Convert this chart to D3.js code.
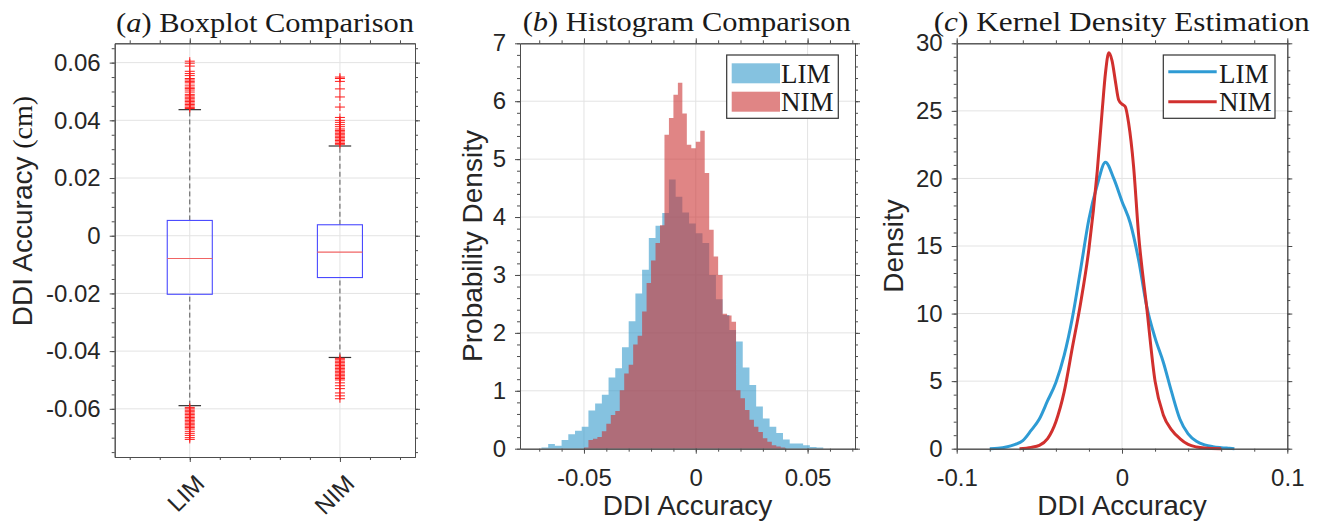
<!DOCTYPE html>

<head>
  <meta charset="utf-8">
  <script src="https://d3js.org/d3.v7.min.js"></script>
  <style>
    body {
      margin: 0;
      background: #fff;
    }

    .axis text {
      font-family: "Liberation Sans", Arial, sans-serif;
      font-size: 24px;
      fill: #262626;
    }

    .axis path,
    .axis line {
      stroke: #4d4d4d;
    }

    .label {
      font-family: "Liberation Sans", Arial, sans-serif;
      font-size: 28px;
      fill: #262626;
    }

    .serif {
      font-family: "Liberation Serif", "Times New Roman", serif;
      fill: #1a1a1a;
    }

    .grid line {
      stroke: #e3e3e3;
      stroke-width: 1;
    }
  </style>
</head>

<body>
  <svg width="1324" height="524"></svg>
  <script>
    // ---- data ----
    var groups = ["LIM", "NIM"];

    // lower whisker, q1, median, q3, upper whisker
    var limBox = [-0.0589, -0.0203, -0.0079, 0.0053, 0.0437];
    var nimBox = [-0.0422, -0.0145, -0.0057, 0.0038, 0.0311];

    var limOutliers = [0.0605, 0.0598, 0.0588, 0.0570, 0.0562, 0.0555, 0.0545, 0.0540, 0.0535, 0.0530, 0.0522,
      0.0515, 0.0510, 0.0505, 0.0498, 0.0490, 0.0485, 0.0480, 0.0475, 0.0470, 0.0465, 0.0460, 0.0455, 0.0450,
      0.0445, 0.0441, -0.0595, -0.0600, -0.0605, -0.0610, -0.0615, -0.0620, -0.0625, -0.0630, -0.0635, -0.0640,
      -0.0645, -0.0650, -0.0655, -0.0660, -0.0665, -0.0670, -0.0678, -0.0685, -0.0692, -0.0700, -0.0706];
    var nimOutliers = [0.0550, 0.0545, 0.0535, 0.0509, 0.0481, 0.0446, 0.0410, 0.0400, 0.0393, 0.0385, 0.0378,
      0.0370, 0.0365, 0.0360, 0.0355, 0.0350, 0.0345, 0.0340, 0.0335, 0.0330, 0.0325, 0.0320, 0.0317,
      -0.0425, -0.0430, -0.0435, -0.0440, -0.0445, -0.0450, -0.0455, -0.0460, -0.0465, -0.0470, -0.0475,
      -0.0480, -0.0485, -0.0490, -0.0495, -0.0500, -0.0510, -0.0520, -0.0530, -0.0545, -0.0555, -0.0565];

    // histogram (pdf normalised), bin edges and densities
    var limEdges = [-0.069, -0.066, -0.063, -0.060, -0.057, -0.054, -0.051, -0.048, -0.045, -0.042, -0.039,
      -0.036, -0.033, -0.030, -0.027, -0.024, -0.021, -0.018, -0.015, -0.012, -0.009, -0.006, -0.003, 0.000,
      0.003, 0.006, 0.009, 0.012, 0.015, 0.018, 0.021, 0.024, 0.027, 0.030, 0.033, 0.036, 0.039, 0.042, 0.045,
      0.048, 0.051, 0.054, 0.057];
    var limDensity = [0.02, 0.08, 0.05, 0.15, 0.25, 0.31, 0.38, 0.66, 0.78, 0.93, 1.23, 1.39, 1.75, 2.20, 2.68,
      3.09, 3.64, 3.85, 4.07, 4.65, 4.35, 4.08, 3.89, 3.72, 3.55, 3.00, 2.58, 2.31, 2.05, 1.85, 1.40, 1.10, 0.73,
      0.52, 0.38, 0.27, 0.16, 0.09, 0.09, 0.06, 0.03, 0.02];
    var nimEdges = [-0.050, -0.048, -0.046, -0.044, -0.042, -0.040, -0.038, -0.036, -0.034, -0.032, -0.030,
      -0.028, -0.026, -0.024, -0.022, -0.020, -0.018, -0.016, -0.014, -0.012, -0.010, -0.008, -0.006, -0.004,
      -0.002, 0.000, 0.002, 0.004, 0.006, 0.008, 0.010, 0.012, 0.014, 0.016, 0.018, 0.020, 0.022, 0.024, 0.026,
      0.028, 0.030, 0.032, 0.034, 0.036, 0.038, 0.040];
    var nimDensity = [0.02, 0.15, 0.17, 0.20, 0.30, 0.43, 0.58, 0.65, 1.01, 1.30, 1.45, 1.80, 1.95, 2.37, 2.86,
      3.25, 3.55, 3.86, 5.42, 5.71, 6.11, 6.32, 5.79, 5.25, 5.19, 5.30, 5.49, 4.76, 3.78, 3.32, 3.00, 2.33, 2.30,
      2.19, 1.01, 0.87, 0.67, 0.50, 0.38, 0.29, 0.18, 0.12, 0.06, 0.04, 0.02];

    // kernel density estimates
    var limKdeX = [-0.080, -0.075, -0.070, -0.065, -0.060, -0.055, -0.050, -0.045, -0.040, -0.035, -0.030, -0.025,
      -0.020, -0.015, -0.010, -0.005, 0.000, 0.005, 0.010, 0.015, 0.020, 0.025, 0.030, 0.035, 0.040, 0.045, 0.050,
      0.055, 0.060, 0.065, 0.068];
    var limKdeY = [0, 0.03, 0.12, 0.3, 0.6, 1.35, 2.2, 3.55, 4.9, 6.9, 9.7, 13.3, 17.0, 19.5, 21.2, 20.0, 18.3, 16.7,
      14.0, 10.5, 8.2, 6.4, 4.2, 2.2, 1.1, 0.55, 0.28, 0.15, 0.08, 0.03, 0];
    var nimKdeX = [-0.062, -0.055, -0.050, -0.045, -0.040, -0.035, -0.030, -0.025, -0.020, -0.015, -0.012, -0.010,
      -0.008, -0.006, -0.004, -0.002, 0.000, 0.002, 0.004, 0.007, 0.010, 0.015, 0.020, 0.025, 0.030, 0.035, 0.040,
      0.045, 0.050, 0.060];
    var nimKdeY = [0, 0.1, 0.25, 0.75, 2.0, 4.2, 7.5, 10.8, 14.8, 20.5, 25.0, 27.8, 29.3, 28.7, 27.2, 25.8, 25.5,
      25.3, 24.1, 20.9, 15.9, 10.4, 5.0, 2.5, 1.4, 0.75, 0.32, 0.13, 0.05, 0];

    var blue = "#3399cc", red = "#cc3333";
    var lineBlue = "#2e9bd4", lineRed = "#d1302e";

    var svg = d3.select("svg");

    // axes frame with outward ticks on all four sides, MATLAB style
    function frame(g, x, y, o) {
      var x0 = x.range()[0], x1 = x.range()[1], y0 = y.range()[0], y1 = y.range()[1];

      var grid = g.append("g").attr("class", "grid");
      grid.selectAll(".gx").data(o.xMajor.filter(function (d) { return x(d) > x0 + 1 && x(d) < x1 - 1; }))
        .join("line").attr("x1", x).attr("x2", x).attr("y1", y0).attr("y2", y1);
      grid.selectAll(".gy").data(o.yMajor.filter(function (d) { return y(d) < y0 - 1 && y(d) > y1 + 1; }))
        .join("line").attr("y1", y).attr("y2", y).attr("x1", x0).attr("x2", x1);

      return function () {
        var sides = [
          [d3.axisBottom, x, "translate(0," + y0 + ")", o.xMajor, o.xMinor, o.xFmt],
          [d3.axisTop, x, "translate(0," + y1 + ")", o.xMajor, o.xMinor, null],
          [d3.axisLeft, y, "translate(" + x0 + ",0)", o.yMajor, o.yMinor, o.yFmt],
          [d3.axisRight, y, "translate(" + x1 + ",0)", o.yMajor, o.yMinor, null]
        ];
        sides.forEach(function (s) {
          g.append("g").attr("class", "axis").attr("transform", s[2])
            .call(s[0](s[1]).tickValues(s[4]).tickSize(3).tickSizeOuter(0).tickFormat(""));
          var ax = s[0](s[1]).tickValues(s[3]).tickSize(5).tickSizeOuter(0).tickFormat(s[5] || "");
          if (s[0] === d3.axisLeft) ax.tickPadding(9);
          if (s[0] === d3.axisBottom) ax.tickPadding(15);
          g.append("g").attr("class", "axis").attr("transform", s[2]).call(ax)
            .attr("font-family", null).attr("font-size", null);
        });
      };
    }

    function range(a, b, step) {
      return d3.range(Math.round(a / step), Math.round(b / step) + 1).map(function (i) { return +(i * step).toFixed(6); });
    }

    // ================= (a) boxplot =================
    var ga = svg.append("g");
    var xa = d3.scaleLinear().domain([0.5, 2.5]).range([114.7, 415]);
    var ya = d3.scaleLinear().domain([-0.0767, 0.0667]).range([457, 43.3]);

    var axesA = frame(ga, xa, ya, {
      xMajor: [1, 2], xMinor: range(0.6, 2.4, 0.2), xFmt: function () { return ""; },
      yMajor: range(-0.06, 0.06, 0.02), yMinor: range(-0.075, 0.065, 0.005),
      yFmt: function (d) { return d === 0 ? "0" : d3.format(".2f")(d).replace("−", "-"); }
    });

    var boxes = [limBox, nimBox];
    var outliers = [limOutliers, nimOutliers];
    var boxW = 0.15, capW = 0.075;

    boxes.forEach(function (b, i) {
      var c = i + 1;
      var g = ga.append("g");
      // whiskers
      g.selectAll(".wh").data([[b[0], b[1]], [b[3], b[4]]]).join("line")
        .attr("x1", xa(c)).attr("x2", xa(c))
        .attr("y1", function (d) { return ya(d[0]); }).attr("y2", function (d) { return ya(d[1]); })
        .attr("stroke", "#555").attr("stroke-width", 1).attr("stroke-dasharray", "5,3");
      g.selectAll(".cap").data([b[0], b[4]]).join("line")
        .attr("x1", xa(c - capW)).attr("x2", xa(c + capW))
        .attr("y1", ya).attr("y2", ya)
        .attr("stroke", "#333").attr("stroke-width", 1.2);
      // box
      g.append("rect")
        .attr("x", xa(c - boxW)).attr("width", xa(c + boxW) - xa(c - boxW))
        .attr("y", ya(b[3])).attr("height", ya(b[1]) - ya(b[3]))
        .attr("fill", "none").attr("stroke", "#4a4aff").attr("stroke-width", 1.1);
      g.append("line")
        .attr("x1", xa(c - boxW)).attr("x2", xa(c + boxW))
        .attr("y1", ya(b[2])).attr("y2", ya(b[2]))
        .attr("stroke", "#f06464").attr("stroke-width", 1.2);
      // outliers as + markers
      g.selectAll(".out").data(outliers[i]).join("path")
        .attr("d", function (d) {
          var px = xa(c), py = ya(d);
          return "M" + (px - 5) + "," + py + "H" + (px + 5) + "M" + px + "," + (py - 4) + "V" + (py + 4);
        })
        .attr("stroke", "#ff1a1a").attr("stroke-width", 1).attr("fill", "none");
    });
    axesA();

    groups.forEach(function (name, i) {
      ga.append("text")
        .attr("class", "axis-tick")
        .attr("transform", "translate(" + (xa(i + 1) + 16) + "," + (ya.range()[0] + 28) + ") rotate(-45)")
        .attr("text-anchor", "end")
        .style("font-family", "'Liberation Sans', Arial, sans-serif")
        .style("font-size", "24px").style("fill", "#262626")
        .text(name);
    });

    var ylabA = ga.append("text").attr("class", "label")
      .attr("transform", "translate(32,211) rotate(-90)").attr("text-anchor", "middle");
    ylabA.append("tspan").text("DDI Accuracy ");
    ylabA.append("tspan").attr("class", "serif").text("(cm)");

    var tA = ga.append("text").attr("class", "serif").attr("x", 265).attr("y", 32)
      .attr("text-anchor", "middle").style("font-size", "27px")
      .attr("textLength", 298).attr("lengthAdjust", "spacingAndGlyphs");
    tA.append("tspan").text("(");
    tA.append("tspan").style("font-style", "italic").text("a");
    tA.append("tspan").text(") Boxplot Comparison");

    // ================= (b) histogram =================
    var gb = svg.append("g");
    var xb = d3.scaleLinear().domain([-0.0786, 0.0712]).range([520, 855]);
    var yb = d3.scaleLinear().domain([0, 7]).range([448.7, 43.3]);

    var axesB = frame(gb, xb, yb, {
      xMajor: [-0.05, 0, 0.05], xMinor: range(-0.07, 0.07, 0.01),
      xFmt: function (d) { return d === 0 ? "0" : d3.format(".2f")(d).replace("−", "-"); },
      yMajor: range(0, 7, 1), yMinor: range(0, 7, 0.2), yFmt: d3.format("d")
    });

    function histArea(edges, dens) {
      var pts = dens.map(function (d, i) { return [edges[i], d]; });
      pts.push([edges[edges.length - 1], dens[dens.length - 1]]);
      return d3.area().curve(d3.curveStepAfter)
        .x(function (d) { return xb(d[0]); }).y0(yb(0)).y1(function (d) { return yb(d[1]); })(pts);
    }

    gb.append("path").attr("d", histArea(limEdges, limDensity)).attr("fill", blue).attr("fill-opacity", 0.6);
    gb.append("path").attr("d", histArea(nimEdges, nimDensity)).attr("fill", red).attr("fill-opacity", 0.6);
    axesB();

    var legB = gb.append("g");
    legB.append("rect").attr("x", 726.7).attr("y", 55).attr("width", 111.6).attr("height", 63.3)
      .attr("fill", "#fff").attr("stroke", "#333").attr("stroke-width", 1.2);
    [[blue, "LIM"], [red, "NIM"]].forEach(function (d, i) {
      legB.append("rect").attr("x", 731.7).attr("y", 63.3 + i * 28.4).attr("width", 48.3).attr("height", 20)
        .attr("fill", d[0]).attr("fill-opacity", 0.6);
      legB.append("text").attr("class", "serif").attr("x", 781).attr("y", 82.7 + i * 28.4)
        .style("font-size", "27px").text(d[1]);
    });

    gb.append("text").attr("class", "label")
      .attr("transform", "translate(482," + (yb.range()[0] + yb.range()[1]) / 2 + ") rotate(-90)")
      .attr("text-anchor", "middle").text("Probability Density");
    gb.append("text").attr("class", "label")
      .attr("x", (xb.range()[0] + xb.range()[1]) / 2).attr("y", 515)
      .attr("text-anchor", "middle").text("DDI Accuracy");

    var tB = gb.append("text").attr("class", "serif").attr("x", 686.7).attr("y", 31)
      .attr("text-anchor", "middle").style("font-size", "27px")
      .attr("textLength", 328).attr("lengthAdjust", "spacingAndGlyphs");
    tB.append("tspan").text("(");
    tB.append("tspan").style("font-style", "italic").text("b");
    tB.append("tspan").text(") Histogram Comparison");

    // ================= (c) kernel density =================
    var gc = svg.append("g");
    var xc = d3.scaleLinear().domain([-0.1, 0.1]).range([956.7, 1287.3]);
    var yc = d3.scaleLinear().domain([0, 30]).range([448.7, 43.3]);

    var axesC = frame(gc, xc, yc, {
      xMajor: [-0.1, 0, 0.1], xMinor: range(-0.1, 0.1, 0.02),
      xFmt: function (d) { return d === 0 ? "0" : d3.format(".1f")(d).replace("−", "-"); },
      yMajor: range(0, 30, 5), yMinor: range(0, 30, 1), yFmt: d3.format("d")
    });

    var kdeLine = d3.line().curve(d3.curveMonotoneX)
      .x(function (d) { return xc(d[0]); }).y(function (d) { return yc(d[1]); });

    gc.append("path").datum(d3.zip(limKdeX, limKdeY)).attr("d", kdeLine)
      .attr("fill", "none").attr("stroke", lineBlue).attr("stroke-width", 3).attr("stroke-linejoin", "round");
    gc.append("path").datum(d3.zip(nimKdeX, nimKdeY)).attr("d", kdeLine)
      .attr("fill", "none").attr("stroke", lineRed).attr("stroke-width", 3).attr("stroke-linejoin", "round");
    axesC();

    var legC = gc.append("g");
    legC.append("rect").attr("x", 1163.3).attr("y", 55).attr("width", 111.7).attr("height", 63.3)
      .attr("fill", "#fff").attr("stroke", "#333").attr("stroke-width", 1.2);
    [[lineBlue, "LIM"], [lineRed, "NIM"]].forEach(function (d, i) {
      legC.append("line").attr("x1", 1168.3).attr("x2", 1216.7)
        .attr("y1", 71.7 + i * 30).attr("y2", 71.7 + i * 30)
        .attr("stroke", d[0]).attr("stroke-width", 3);
      legC.append("text").attr("class", "serif").attr("x", 1219).attr("y", 82.7 + i * 28.4)
        .style("font-size", "27px").text(d[1]);
    });

    gc.append("text").attr("class", "label")
      .attr("transform", "translate(903," + (yc.range()[0] + yc.range()[1]) / 2 + ") rotate(-90)")
      .attr("text-anchor", "middle").text("Density");
    gc.append("text").attr("class", "label")
      .attr("x", (xc.range()[0] + xc.range()[1]) / 2).attr("y", 515)
      .attr("text-anchor", "middle").text("DDI Accuracy");

    var tC = gc.append("text").attr("class", "serif").attr("x", 1121.7).attr("y", 31)
      .attr("text-anchor", "middle").style("font-size", "27px")
      .attr("textLength", 376).attr("lengthAdjust", "spacingAndGlyphs");
    tC.append("tspan").text("(");
    tC.append("tspan").style("font-style", "italic").text("c");
    tC.append("tspan").text(") Kernel Density Estimation");
  </script>
</body>
